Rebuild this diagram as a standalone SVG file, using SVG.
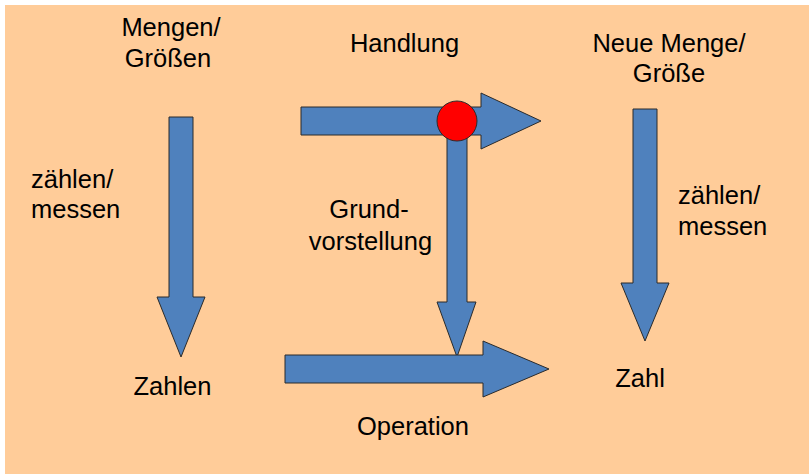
<svg xmlns="http://www.w3.org/2000/svg" width="809" height="474" viewBox="0 0 809 474">
<style>
.bg{fill:#FFCC99}
.arrow{fill:#4F81BD;stroke:#2B2B2B;stroke-width:1;stroke-linejoin:miter}
.dot{fill:#FF0000;stroke:#2B2B2B;stroke-width:1}
text{font-family:"Liberation Sans",Arial,sans-serif;font-size:25.5px;fill:#000}
.m{text-anchor:middle}
</style>
<rect x="0" y="0" width="809" height="474" fill="#FFFFFF"/>
<rect class="bg" x="5" y="5" width="804" height="469"/>
<g id="connectors">
<polygon id="arrow-left" class="arrow" points="169,117 193,117 193,297 205,297 181,357 157,297 169,297"/>
<polygon id="arrow-top" class="arrow" points="301,107 481,107 481,93 541,121 481,149 481,135 301,135"/>
<polygon id="arrow-mid" class="arrow" points="447,121 467,121 467,302 476,302 457,357 437,302 447,302"/>
<polygon id="arrow-bottom" class="arrow" points="285,355 483,355 483,341 549,369 483,397 483,383 285,383"/>
<polygon id="arrow-right" class="arrow" points="633,109 657,109 657,283 669,283 645,341 621,283 633,283"/>
</g>
<g id="node-junction"><circle class="dot" cx="457" cy="121" r="20"/></g>
<g id="node-mengen"><text class="m" x="171" y="36">Mengen/</text><text class="m" x="168" y="67">Größen</text></g>
<g id="node-handlung"><text class="m" x="404.5" y="52">Handlung</text></g>
<g id="node-neue"><text class="m" x="669" y="52">Neue Menge/</text><text class="m" x="669" y="82">Größe</text></g>
<g id="label-zaehlen-left"><text x="31" y="188">zählen/</text><text x="31" y="218">messen</text></g>
<g id="label-grund"><text class="m" x="369" y="218">Grund-</text><text class="m" x="370.5" y="250">vorstellung</text></g>
<g id="label-zaehlen-right"><text x="678" y="204">zählen/</text><text x="678" y="235">messen</text></g>
<g id="node-zahlen"><text class="m" x="172.5" y="395">Zahlen</text></g>
<g id="node-zahl"><text class="m" x="640" y="387">Zahl</text></g>
<g id="label-operation"><text class="m" x="413" y="435">Operation</text></g>
</svg>
